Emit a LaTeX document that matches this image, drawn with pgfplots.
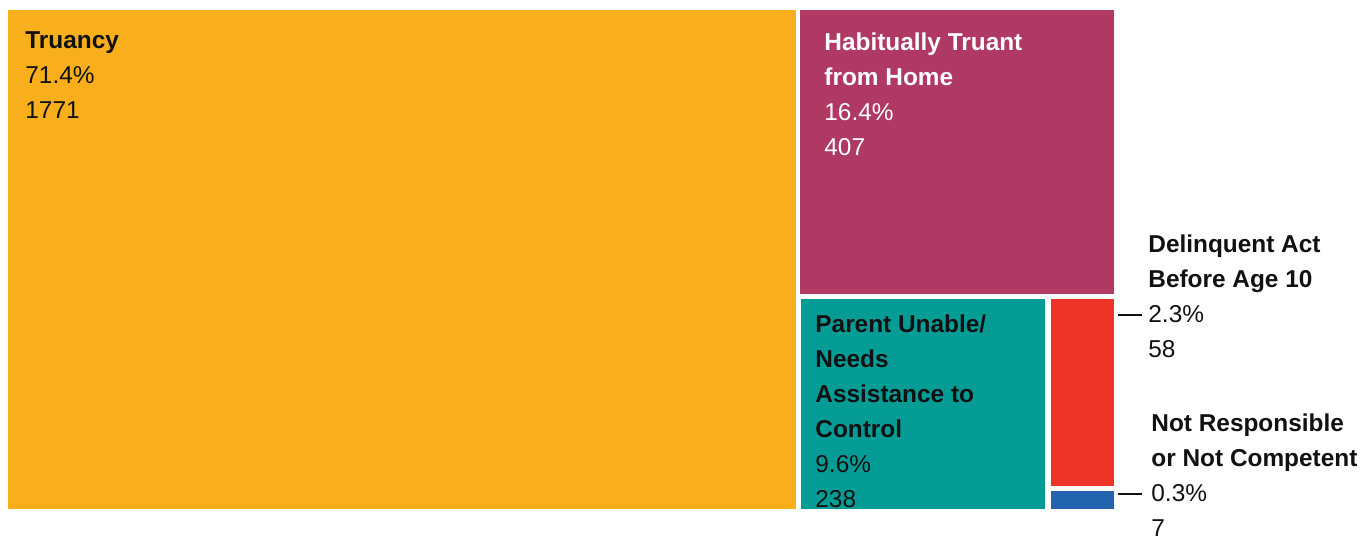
\documentclass[border=0pt]{standalone}
\usepackage{pgfplots}
\pgfplotsset{compat=1.18}
\usepackage{fontspec}
\setmainfont{Liberation Sans}
\definecolor{cOrange}{RGB}{249,175,28}
\definecolor{cMag}{RGB}{175,57,99}
\definecolor{cTeal}{RGB}{5,156,150}
\definecolor{cRed}{RGB}{238,52,39}
\definecolor{cBlue}{RGB}{34,100,174}
\definecolor{cText}{RGB}{17,17,17}
\tikzset{lbl/.style={font=\fontsize{12.2}{17.5}\selectfont, inner sep=0pt, align=left, text=cText, anchor=base west}}
\begin{document}
\begin{tikzpicture}
\begin{axis}[
  width=684.5pt, height=269pt, scale only axis,
  xmin=0, xmax=1369, ymin=0, ymax=538, y dir=reverse,
  axis lines=none, clip=false,
]
\addplot[draw=none, forget plot] coordinates {(0,0) (1369,538)};
\addplot[fill=cOrange, draw=white, line width=0.5pt] coordinates {(7,9) (796,9) (796,509) (7,509) (7,9)};
\addplot[fill=cMag, draw=white, line width=0.5pt] coordinates {(799,9) (1114,9) (1114,294) (799,294) (799,9)};
\addplot[fill=cTeal, draw=white, line width=0.5pt] coordinates {(800,298) (1045,298) (1045,509) (800,509) (800,298)};
\addplot[fill=cRed, draw=white, line width=0.5pt] coordinates {(1050,298) (1114,298) (1114,486) (1050,486) (1050,298)};
\addplot[fill=cBlue, draw=white, line width=0.5pt] coordinates {(1050,490) (1114,490) (1114,509) (1050,509) (1050,490)};
\addplot[cText, line width=0.6pt] coordinates {(1118,315) (1142,315)};
\addplot[cText, line width=0.6pt] coordinates {(1118,494) (1142,494)};

\node[lbl] at (axis cs:25,118) {\textbf{Truancy}\\71.4\%\\1771};
\node[lbl, text=white] at (axis cs:824,155) {\textbf{Habitually Truant}\\\textbf{from Home}\\16.4\%\\407};
\node[lbl] at (axis cs:815,507) {\textbf{Parent Unable/}\\\textbf{Needs}\\\textbf{Assistance to}\\\textbf{Control}\\9.6\%\\238};
\node[lbl] at (axis cs:1148,357) {\textbf{Delinquent Act}\\\textbf{Before Age 10}\\2.3\%\\58};
\node[lbl] at (axis cs:1151,536) {\textbf{Not Responsible}\\\textbf{or Not Competent}\\0.3\%\\7};
\end{axis}
\end{tikzpicture}
\end{document}
